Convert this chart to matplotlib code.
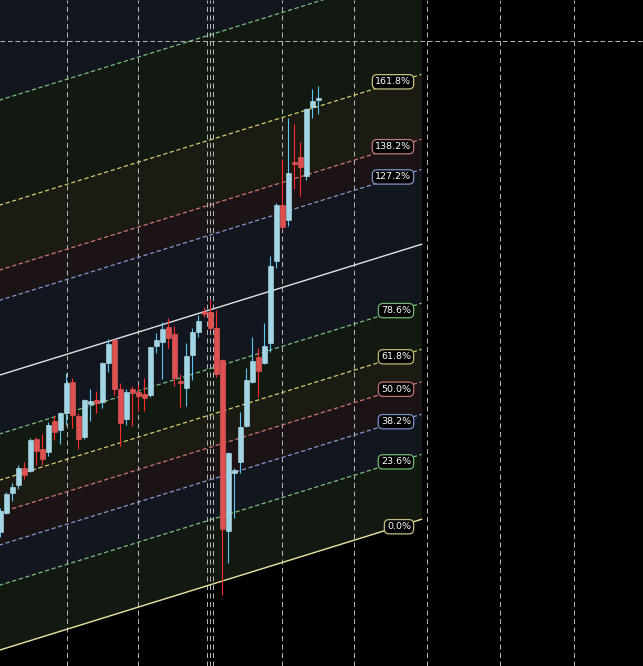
"""
Candlestick chart with a Fibonacci channel drawn on top (dark theme).
"""

import numpy as np
import matplotlib
matplotlib.use('Agg')
import matplotlib.pyplot as plt

# ── OHLC data (one candle per bar) ─────────────────────
opens  = [63.4, 65.33, 67.33, 68.1, 69.8, 69.53, 72.7, 71.7, 71.43, 74.5,
          73.6, 75.27, 78.43, 75.0, 72.93, 76.2, 76.6, 76.43, 80.27, 82.6,
          77.7, 74.7, 77.7, 77.4, 77.2, 77.1, 82.03, 82.43, 83.87, 83.2,
          78.53, 77.83, 81.13, 83.43, 85.43, 85.43, 83.83, 80.6, 63.53, 69.27,
          70.43, 74.0, 78.43, 80.93, 80.27, 82.27, 90.5, 96.1, 94.6, 100.43,
          100.93, 99.0, 105.93, 106.63]
highs  = [65.8, 67.4, 68.33, 70.1, 70.4, 72.8, 72.93, 73.2, 74.37, 75.1,
          75.4, 79.27, 78.77, 75.27, 76.7, 77.7, 77.5, 80.4, 82.7, 82.7,
          78.27, 77.7, 78.0, 78.1, 78.77, 81.9, 83.27, 84.37, 84.77, 84.0,
          79.2, 82.33, 83.83, 85.1, 85.93, 86.7, 85.6, 80.7, 71.43, 69.77,
          75.43, 79.77, 82.93, 81.77, 84.33, 91.0, 96.27, 100.7, 104.77, 104.2,
          102.43, 105.77, 107.7, 108.0]
lows   = [62.9, 65.2, 66.53, 67.67, 68.7, 69.4, 70.1, 70.1, 71.0, 72.6,
          72.2, 74.1, 73.77, 71.73, 72.73, 74.53, 75.33, 75.8, 79.43, 77.1,
          72.03, 74.1, 74.0, 75.5, 75.5, 76.93, 81.33, 78.7, 81.83, 78.03,
          75.93, 76.03, 78.6, 82.93, 84.87, 83.6, 78.9, 57.1, 60.33, 64.83,
          69.33, 73.93, 78.27, 76.87, 80.2, 81.43, 89.83, 93.67, 94.03, 97.7,
          97.0, 98.6, 104.83, 105.2]
closes = [65.5, 67.17, 67.87, 69.8, 69.13, 72.6, 71.53, 70.7, 74.1, 73.43,
          75.3, 78.27, 75.07, 72.73, 76.6, 76.5, 76.27, 80.33, 82.2, 77.67,
          74.33, 77.37, 77.27, 77.03, 76.83, 81.87, 82.6, 83.67, 82.83, 78.77,
          78.27, 81.0, 83.4, 84.5, 85.17, 83.8, 79.17, 63.67, 71.33, 69.6,
          73.93, 78.6, 80.5, 79.53, 82.0, 90.0, 96.1, 93.93, 99.27, 100.2,
          99.93, 105.67, 106.5, 106.8]

# ── Fib channel (base line anchors + width) ────────────
CH_TIME  = [0, 70.2]
CH_PRICE = [51.61, 64.67]
CH_WIDTH = 27.5
LEVELS      = [0.0, 0.236, 0.382, 0.5, 0.618, 0.786, 1.0, 1.272, 1.382, 1.618, 2.0, 2.618]
LEVEL_NAMES = ['0.0%', '23.6%', '38.2%', '50.0%', '61.8%', '78.6%', '', '127.2%',
               '138.2%', '161.8%', '', '']

# ── Grid positions (bar index / price) ─────────────────
GRID_X = [11.07, 23.0, 34.5, 35.0, 35.5, 47.0, 59.0, 71.2, 83.3, 95.7]
GRID_Y = [112.5]

# ── Style ──────────────────────────────────────────────
BG        = '#000000'
GREEN     = '#78c078'
BLUE      = '#7f9ad2'
RED       = '#d27474'
YELLOW    = '#d4ca70'
LINE_COLS = ['#ece3a2', GREEN, BLUE, RED, YELLOW, GREEN, '#e4e4e4', BLUE, RED, YELLOW, GREEN, BLUE]
LABEL_EDGE = ['#c8bf82', '#72b872', '#7890c8', '#c07272', '#c0b872', '#72b872', None,
              '#7f96c4', '#c07878', '#c8c080', None, None]
FILL_NAVY, FILL_GREEN, FILL_RED, FILL_OLIVE = '#12161f', '#111911', '#1b1315', '#1b1a13'
BAND_FILLS = [FILL_GREEN, FILL_NAVY, FILL_RED, FILL_OLIVE, FILL_GREEN, FILL_NAVY,
              FILL_NAVY, FILL_RED, FILL_OLIVE, FILL_GREEN, FILL_NAVY]
UP_BODY, UP_EDGE, UP_WICK = '#a2d5e6', '#b9e3ee', '#5cc6f2'
DN_BODY, DN_EDGE, DN_WICK = '#df5050', '#ee6060', '#ff2b2b'
# ───────────────────────────────────────────────────────

W, H, DPI = 643, 666, 100
fig = plt.figure(figsize=(W / DPI, H / DPI), dpi=DPI, facecolor=BG)
ax = fig.add_axes([0, 0, 1, 1])
ax.set_facecolor(BG)
ax.set_xlim(-0.05, -0.05 + W / 6)
ax.set_ylim(50.0, 116.6)
ax.axis('off')

# channel geometry
slope = (CH_PRICE[1] - CH_PRICE[0]) / (CH_TIME[1] - CH_TIME[0])
def level_price(t, lvl):
    return CH_PRICE[0] + slope * (np.asarray(t) - CH_TIME[0]) + lvl * CH_WIDTH

tx = np.array([-3.0, CH_TIME[1]])
for i in range(1, len(LEVELS)):
    ax.fill_between(tx, level_price(tx, LEVELS[i - 1]), level_price(tx, LEVELS[i]),
                    color=BAND_FILLS[i - 1], lw=0, zorder=1)

# grid
for gx in GRID_X:
    ax.axvline(gx, color='#b4b4b4', lw=0.72, ls=(0, (5, 3.5)), zorder=2)
for gy in GRID_Y:
    ax.axhline(gy, color='#b4b4b4', lw=0.72, ls=(0, (4.5, 3)), zorder=2)

# channel lines
for lvl, col in zip(LEVELS, LINE_COLS):
    solid = lvl in (0.0, 1.0)
    ax.plot(tx, level_price(tx, lvl), color=col, lw=1.0 if solid else 0.9,
            ls='-' if solid else (0, (3.5, 2)), zorder=3)

# candles
idx = np.arange(len(opens))
o, h, l, c = map(np.array, (opens, highs, lows, closes))
up = c >= o
ax.vlines(idx[up], l[up], h[up], color=UP_WICK, lw=0.8, zorder=4)
ax.vlines(idx[~up], l[~up], h[~up], color=DN_WICK, lw=0.8, zorder=4)
body_lo = np.minimum(o, c)
body_h = np.maximum(np.abs(c - o), 0.18)
ax.bar(idx[up], body_h[up], bottom=body_lo[up], width=0.74, color=UP_BODY,
       edgecolor=UP_EDGE, linewidth=0.4, zorder=5)
ax.bar(idx[~up], body_h[~up], bottom=body_lo[~up], width=0.74, color=DN_BODY,
       edgecolor=DN_EDGE, linewidth=0.4, zorder=5)

# level labels
for lvl, name, edge in zip(LEVELS, LEVEL_NAMES, LABEL_EDGE):
    if not name:
        continue
    ax.text(68.45, level_price(66.2, lvl), name, ha='right', va='center',
            fontsize=6.8, color='white', family='DejaVu Sans', zorder=7,
            bbox=dict(boxstyle='round,pad=0.28,rounding_size=0.5', fc='black',
                      ec=edge, lw=0.9))

fig.savefig('out.png', dpi=DPI, facecolor=BG)
